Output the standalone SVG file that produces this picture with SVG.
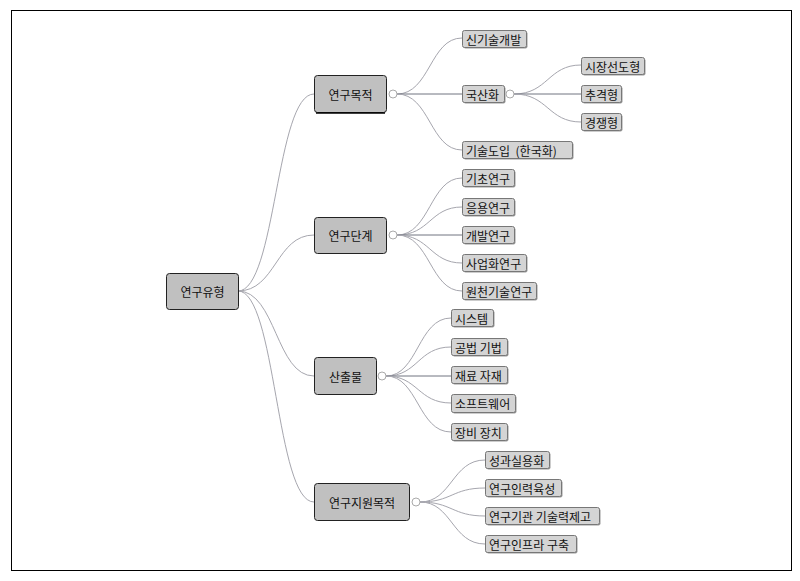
<svg xmlns="http://www.w3.org/2000/svg" width="800" height="581" viewBox="0 0 800 581">
<style>
text{font-family:"Noto Sans CJK KR","Noto Sans",sans-serif;font-size:12px;fill:#111;dominant-baseline:central}
.main rect{fill:#c0c0c0;stroke:#222;stroke-width:1}
.leaf .sh{fill:#9a9a9a;stroke:none}
.leaf .bx{fill:#d4d4d4;stroke:#777;stroke-width:1}
.tg{fill:#fff;stroke:#aaa;stroke-width:1}
#connectors path{fill:none;stroke:#a6a6ae;stroke-width:1}
#connectors path.st{stroke:#707480}
</style>
<rect x="11.5" y="10.5" width="780" height="560" fill="#fff" stroke="#000" stroke-width="1"/>
<g id="connectors">
<path d="M238 291 C276 291 276 94 314 94"/>
<path d="M238 291 C276 291 276 235 314 235"/>
<path d="M238 291 C276 291 276 376 314 376"/>
<path d="M238 291 C276 291 276 502 314 502"/>
<path d="M397 94 C430 94 430 38 462 38"/>
<path class="st" d="M397 94 L462 94"/>
<path d="M397 94 C430 94 430 150 462 150"/>
<path d="M514 94 C548 94 548 65 581 65"/>
<path class="st" d="M514 94 L581 94"/>
<path d="M514 94 C548 94 548 122 581 122"/>
<path d="M397 235 C430 235 430 178 462 178"/>
<path d="M397 235 C430 235 430 207 462 207"/>
<path class="st" d="M397 235 L462 235"/>
<path d="M397 235 C430 235 430 263 462 263"/>
<path d="M397 235 C430 235 430 291 462 291"/>
<path d="M386 376 C418 376 418 318 451 318"/>
<path d="M386 376 C418 376 418 347 451 347"/>
<path class="st" d="M386 376 L451 376"/>
<path d="M386 376 C418 376 418 403 451 403"/>
<path d="M386 376 C418 376 418 432 451 432"/>
<path d="M420 502 C452 502 452 460 485 460"/>
<path d="M420 502 C452 502 452 488 485 488"/>
<path d="M420 502 C452 502 452 516 485 516"/>
<path d="M420 502 C452 502 452 544 485 544"/>
</g>
<g id="n-root" class="main"><rect x="166.5" y="273.5" width="72" height="36" rx="3"/><text x="202.5" y="291.5" text-anchor="middle">연구유형</text></g>
<g id="n-purpose" class="main"><rect x="314.5" y="75.5" width="72" height="37" rx="3"/><line x1="316" y1="113" x2="385" y2="113" stroke="#000" stroke-width="1.5"/><circle class="tg" cx="393" cy="94" r="4"/><text x="350.5" y="94" text-anchor="middle">연구목적</text></g>
<g id="n-stage" class="main"><rect x="314.5" y="217.5" width="72" height="36" rx="3"/><circle class="tg" cx="393" cy="235" r="4"/><text x="350.5" y="235.5" text-anchor="middle">연구단계</text></g>
<g id="n-output" class="main"><rect x="314.5" y="357.5" width="62" height="37" rx="3"/><circle class="tg" cx="382" cy="376" r="4"/><text x="345.5" y="376" text-anchor="middle">산출물</text></g>
<g id="n-support" class="main"><rect x="314.5" y="483.5" width="95" height="37" rx="3"/><circle class="tg" cx="416" cy="502" r="4"/><text x="362" y="502" text-anchor="middle">연구지원목적</text></g>
<g id="l-1" class="leaf"><rect class="sh" x="463.5" y="31.5" width="64" height="17" rx="2"/><rect class="bx" x="462.5" y="30.5" width="64" height="17" rx="2"/><text x="466" y="39">신기술개발</text></g>
<g id="l-2" class="leaf"><rect class="sh" x="463.5" y="86.5" width="42" height="17" rx="2"/><rect class="bx" x="462.5" y="85.5" width="42" height="17" rx="2"/><circle class="tg" cx="510" cy="94" r="4"/><text x="466" y="94">국산화</text></g>
<g id="l-2a" class="leaf"><rect class="sh" x="582.5" y="58.5" width="63" height="17" rx="2"/><rect class="bx" x="581.5" y="57.5" width="63" height="17" rx="2"/><text x="585" y="66">시장선도형</text></g>
<g id="l-2b" class="leaf"><rect class="sh" x="582.5" y="86.5" width="40" height="17" rx="2"/><rect class="bx" x="581.5" y="85.5" width="40" height="17" rx="2"/><text x="585" y="94">추격형</text></g>
<g id="l-2c" class="leaf"><rect class="sh" x="582.5" y="114.5" width="40" height="17" rx="2"/><rect class="bx" x="581.5" y="113.5" width="40" height="17" rx="2"/><text x="585" y="122">경쟁형</text></g>
<g id="l-3" class="leaf"><rect class="sh" x="463.5" y="142.5" width="110" height="17" rx="2"/><rect class="bx" x="462.5" y="141.5" width="110" height="17" rx="2"/><text x="466" y="150" xml:space="preserve">기술도입  (한국화)</text></g>
<g id="l-4" class="leaf"><rect class="sh" x="463.5" y="170.5" width="52" height="17" rx="2"/><rect class="bx" x="462.5" y="169.5" width="52" height="17" rx="2"/><text x="466" y="178">기초연구</text></g>
<g id="l-5" class="leaf"><rect class="sh" x="463.5" y="199.5" width="52" height="17" rx="2"/><rect class="bx" x="462.5" y="198.5" width="52" height="17" rx="2"/><text x="466" y="207">응용연구</text></g>
<g id="l-6" class="leaf"><rect class="sh" x="463.5" y="227.5" width="52" height="17" rx="2"/><rect class="bx" x="462.5" y="226.5" width="52" height="17" rx="2"/><text x="466" y="235">개발연구</text></g>
<g id="l-7" class="leaf"><rect class="sh" x="463.5" y="255.5" width="64" height="17" rx="2"/><rect class="bx" x="462.5" y="254.5" width="64" height="17" rx="2"/><text x="466" y="263">사업화연구</text></g>
<g id="l-8" class="leaf"><rect class="sh" x="463.5" y="283.5" width="74" height="17" rx="2"/><rect class="bx" x="462.5" y="282.5" width="74" height="17" rx="2"/><text x="466" y="291">원천기술연구</text></g>
<g id="l-9" class="leaf"><rect class="sh" x="452.5" y="310.5" width="42" height="17" rx="2"/><rect class="bx" x="451.5" y="309.5" width="42" height="17" rx="2"/><text x="455" y="318">시스템</text></g>
<g id="l-10" class="leaf"><rect class="sh" x="452.5" y="339.5" width="56" height="17" rx="2"/><rect class="bx" x="451.5" y="338.5" width="56" height="17" rx="2"/><text x="455" y="347">공법 기법</text></g>
<g id="l-11" class="leaf"><rect class="sh" x="452.5" y="367.5" width="56" height="17" rx="2"/><rect class="bx" x="451.5" y="366.5" width="56" height="17" rx="2"/><text x="455" y="375">재료 자재</text></g>
<g id="l-12" class="leaf"><rect class="sh" x="452.5" y="395.5" width="64" height="18" rx="2"/><rect class="bx" x="451.5" y="394.5" width="64" height="18" rx="2"/><text x="455" y="403.5">소프트웨어</text></g>
<g id="l-13" class="leaf"><rect class="sh" x="452.5" y="424.5" width="56" height="17" rx="2"/><rect class="bx" x="451.5" y="423.5" width="56" height="17" rx="2"/><text x="455" y="432">장비 장치</text></g>
<g id="l-14" class="leaf"><rect class="sh" x="486.5" y="452.5" width="64" height="17" rx="2"/><rect class="bx" x="485.5" y="451.5" width="64" height="17" rx="2"/><text x="489" y="460">성과실용화</text></g>
<g id="l-15" class="leaf"><rect class="sh" x="486.5" y="480.5" width="76" height="17" rx="2"/><rect class="bx" x="485.5" y="479.5" width="76" height="17" rx="2"/><text x="489" y="488">연구인력육성</text></g>
<g id="l-16" class="leaf"><rect class="sh" x="486.5" y="508.5" width="114" height="17" rx="2"/><rect class="bx" x="485.5" y="507.5" width="114" height="17" rx="2"/><text x="489" y="516">연구기관 기술력제고</text></g>
<g id="l-17" class="leaf"><rect class="sh" x="486.5" y="536.5" width="91" height="17" rx="2"/><rect class="bx" x="485.5" y="535.5" width="91" height="17" rx="2"/><text x="489" y="544">연구인프라 구축</text></g>
</svg>
